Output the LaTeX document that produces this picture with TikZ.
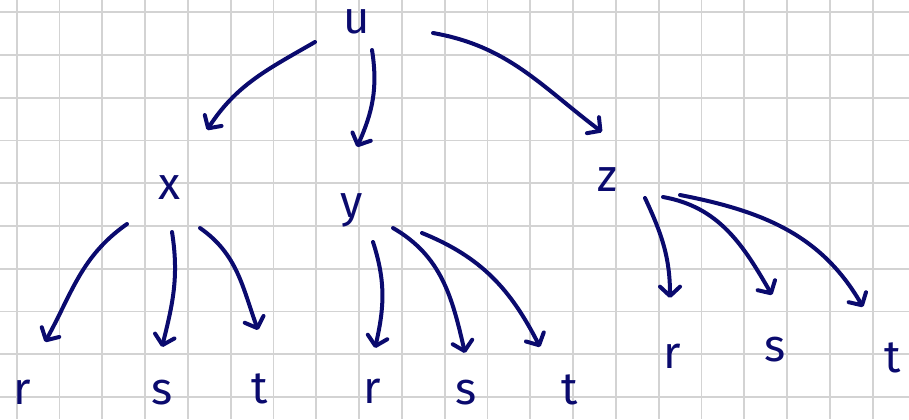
\documentclass[tikz,border=0pt]{standalone}
\usepackage{fontspec}
\setmainfont{Fira Sans}
\usetikzlibrary{arrows.meta, calc}
\definecolor{inkblue}{RGB}{10,10,110}
\definecolor{gridgray}{RGB}{211,211,211}
\tikzset{
  letter/.style={text=inkblue, font=\fontsize{34}{34}\selectfont, inner sep=0pt},
  arrow/.style={-{Straight Barb[length=7pt, width=15pt, round]}, line width=3pt,
    line cap=round, color=inkblue},
  gridline/.style={line width=1.3pt, color=gridgray}
}

\begin{document}
\begin{tikzpicture}[x=0.75pt, y=0.75pt]
  \useasboundingbox (0,0) rectangle (909,-419);
  \fill[white] (0,0) rectangle (909,-419);
  \foreach \i in {0,...,20}
    \draw[gridline] (16.7+42.8*\i,0) -- (16.7+42.8*\i,-419);
  \foreach \j in {0,...,9}
    \draw[gridline] (0,-12.3-42.75*\j) -- (909,-12.3-42.75*\j);

  \node[letter] (u) at (357,-22) {u};
  \node[letter] (x) at (169,-188) {x};
  \node[letter] (y) at (352,-210) {y};
  \node[letter] (z) at (607,-180) {z};
  \node[letter] (xr) at (22,-392) {r};
  \node[letter] (xs) at (162,-393) {s};
  \node[letter] (xt) at (260,-389) {t};
  \node[letter] (yr) at (372,-391) {r};
  \node[letter] (ys) at (466,-393) {s};
  \node[letter] (yt) at (570,-390) {t};
  \node[letter] (zr) at (672,-356) {r};
  \node[letter] (zs) at (775,-350) {s};
  \node[letter] (zt) at (893,-358) {t};

  \draw[arrow] ($(u)+(-42,-20)$) to[out=210, in=57] ($(x)+(38,58)$);
  \draw[arrow] ($(u)+(15,-28)$) to[out=-81, in=66] ($(y)+(5,63)$);
  \draw[arrow] ($(u)+(76,-11)$) to[out=-10, in=143] ($(z)+(-5,48)$);

  \draw[arrow] ($(x)+(-42,-36)$) to[out=215, in=61] ($(xr)+(23,50)$);
  \draw[arrow] ($(x)+(3,-44)$) to[out=-81, in=76] ($(xs)+(0,46)$);
  \draw[arrow] ($(x)+(31,-40)$) to[out=-35, in=110] ($(xt)+(-2,59)$);

  \draw[arrow] ($(y)+(21,-32)$) to[out=-72, in=77] ($(yr)+(3,43)$);
  \draw[arrow] ($(y)+(41,-18)$) to[out=-30, in=103] ($(ys)+(-1,40)$);
  \draw[arrow] ($(y)+(70,-23)$) to[out=-22, in=117] ($(yt)+(-30,43)$);

  \draw[arrow] ($(z)+(38,-18)$) to[out=-65, in=90] ($(zr)+(-2,58)$);
  \draw[arrow] ($(z)+(56,-17)$) to[out=-10, in=120] ($(zs)+(-3,55)$);
  \draw[arrow] ($(z)+(73,-15)$) to[out=-11, in=120] ($(zt)+(-30,51)$);
\end{tikzpicture}
\end{document}
